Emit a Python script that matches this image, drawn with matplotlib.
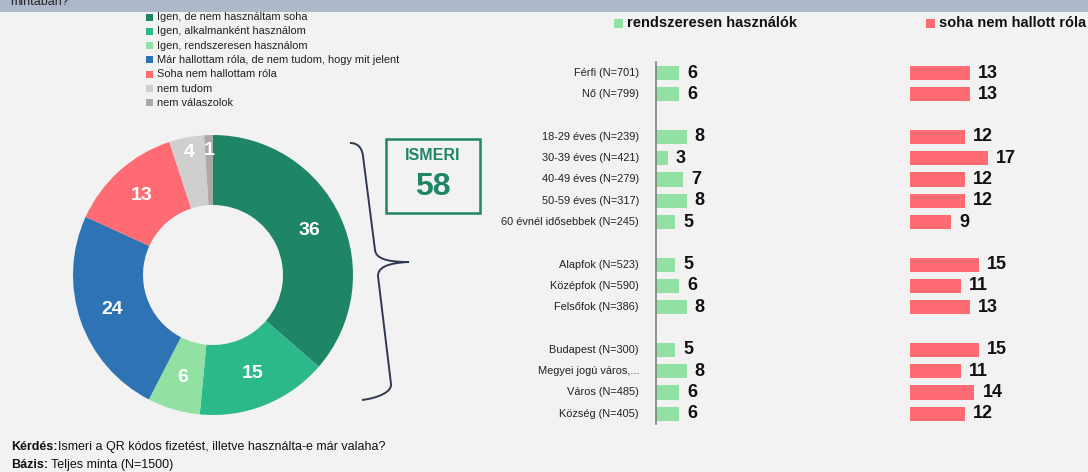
import matplotlib
matplotlib.use("Agg")
import matplotlib.pyplot as plt
from matplotlib import font_manager
from matplotlib.patches import Rectangle, PathPatch
from matplotlib.path import Path
import numpy as np

# ---------------- data ----------------
pie_labels = ["Igen, de nem használtam soha", "Igen, alkalmanként használom",
              "Igen, rendszeresen használom",
              "Már hallottam róla, de nem tudom, hogy mit jelent",
              "Soha nem hallottam róla", "nem tudom", "nem válaszolok"]
pie_values = [36, 15, 6, 24, 13, 4, 1]
pie_colors = ["#1E8567", "#2BB98C", "#92E0A2", "#2E74B5", "#FF6B72", "#D0CFCF", "#ADA9A8"]

categories = ["Férfi (N=701)", "Nő (N=799)", None,
              "18-29 éves (N=239)", "30-39 éves (N=421)", "40-49 éves (N=279)",
              "50-59 éves (N=317)", "60 évnél idősebbek (N=245)", None,
              "Alapfok (N=523)", "Középfok (N=590)", "Felsőfok (N=386)", None,
              "Budapest (N=300)", "Megyei jogú város,...", "Város (N=485)", "Község (N=405)"]
regular_users = [6, 6, None, 8, 3, 7, 8, 5, None, 5, 6, 8, None, 5, 8, 6, 6]
never_heard = [13, 13, None, 12, 17, 12, 12, 9, None, 15, 11, 13, None, 15, 11, 14, 12]
series_names = ["rendszeresen használók", "soha nem hallott róla"]
series_colors = ["#92E0A2", "#FF6B72"]
ismeri_total = 58

# ---------------- fonts ----------------
avail = {f.name for f in font_manager.fontManager.ttflist}
FAM = ["Liberation Sans", "DejaVu Sans"]
FAM = [f for f in FAM if f in avail] or ["DejaVu Sans"]
plt.rcParams["font.family"] = FAM

W, H = 1088, 472
BG = "#F2F2F2"
fig = plt.figure(figsize=(W / 100, H / 100), dpi=100, facecolor=BG)


def fx(px):
    return px / W


def fy(py):
    return 1 - py / H


# top banner
fig.patches.append(Rectangle((0, fy(12)), 1, 12 / H, transform=fig.transFigure,
                             facecolor="#ADB9CA", edgecolor="none", zorder=0))
fig.text(fx(10), fy(2), "mintában?", fontsize=9, va="center", ha="left", color="#222222")

# ---------------- donut ----------------
cx, cy, R = 213, 275, 140
axp = fig.add_axes([fx(cx - R), fy(cy + R), 2 * R / W, 2 * R / H])
axp.set_facecolor("none")
wedges, _ = axp.pie(pie_values, colors=pie_colors, startangle=90, counterclock=False,
                    radius=1, wedgeprops=dict(width=0.5, edgecolor="none"))
tot = sum(pie_values)
cum = 0
for v in pie_values:
    a = np.deg2rad(90 - 360 * (cum + v / 2) / tot)
    cum += v
    r = 0.76 if v >= 5 else 0.89
    axp.text(r * np.cos(a), r * np.sin(a), str(v), color="white", fontsize=14,
             fontweight="bold", ha="center", va="center")
axp.set_xlim(-1, 1)
axp.set_ylim(-1, 1)
axp.set_aspect("equal")
axp.axis("off")

# pie legend
for i, (lab, col) in enumerate(zip(pie_labels, pie_colors)):
    y = 17 + i * 14.3
    fig.patches.append(Rectangle((fx(146), fy(y + 3.5)), 7 / W, 7 / H, transform=fig.transFigure,
                                 facecolor=col, edgecolor="none"))
    fig.text(fx(157), fy(y), lab, fontsize=7.9, va="center", ha="left", color="#222222")

# brace (slightly tilted, like the reference)
verts_px = [(350, 143), (358, 143), (362, 148), (363, 156),
            (375, 250),
            (376, 258), (385, 262), (409, 262),
            (386, 263), (378, 268), (378, 276),
            (391, 384),
            (392, 392), (378, 398), (362, 400)]
codes = [Path.MOVETO, Path.CURVE4, Path.CURVE4, Path.CURVE4,
         Path.LINETO,
         Path.CURVE4, Path.CURVE4, Path.CURVE4,
         Path.CURVE4, Path.CURVE4, Path.CURVE4,
         Path.LINETO,
         Path.CURVE4, Path.CURVE4, Path.CURVE4]
verts = [(fx(x), fy(y)) for x, y in verts_px]
fig.patches.append(PathPatch(Path(verts, codes), transform=fig.transFigure, facecolor="none",
                             edgecolor="#2F3A4F", linewidth=1.4))

# ISMERI box
fig.patches.append(Rectangle((fx(386), fy(213)), 94 / W, 74 / H, transform=fig.transFigure,
                             facecolor="none", edgecolor="#1E8567", linewidth=1.8))
fig.text(fx(433), fy(155), "ISMERI", fontsize=11.5, fontweight="bold", color="#1E8567",
         ha="center", va="center")
fig.text(fx(433), fy(187), str(ismeri_total), fontsize=23, fontweight="bold", color="#1E8567",
         ha="center", va="center")

# ---------------- bars ----------------
n = len(categories)
slot = 21.3
top_px = 73 - slot / 2
bot_px = 73 + slot * (n - 1) + slot / 2
ypos = list(range(n))

GSCALE = 3.85   # px per unit (green)
RSCALE = 4.6    # px per unit (red)
axg = fig.add_axes([fx(656), fy(bot_px), 60 * GSCALE / W, (bot_px - top_px) / H])
axr = fig.add_axes([fx(910), fy(bot_px), 30 * RSCALE / W, (bot_px - top_px) / H])
axg.set_xlim(0, 60)
axr.set_xlim(0, 30)
for ax, vals, col, sc in [(axg, regular_users, series_colors[0], GSCALE),
                          (axr, never_heard, series_colors[1], RSCALE)]:
    ax.set_facecolor("none")
    ys = [y for y, v in zip(ypos, vals) if v is not None]
    vs = [v for v in vals if v is not None]
    ax.barh(ys, vs, height=0.66, color=col, edgecolor="none")
    for y, v in zip(ys, vs):
        ax.text(v + 8.0 / sc, y, str(v), fontsize=13, fontweight="bold",
                ha="left", va="center", color="#111111", clip_on=False)
    ax.set_ylim(n - 0.5, -0.5)
    for s in ["top", "right", "bottom"]:
        ax.spines[s].set_visible(False)
    ax.set_xticks([])
    ax.set_yticks([])
axr.spines["left"].set_visible(False)
axg.spines["left"].set_color("#808080")
axg.spines["left"].set_linewidth(1.2)
for y, c in zip(ypos, categories):
    if c is not None:
        axg.text(-17.0 / GSCALE, y, c, fontsize=7.9, ha="right", va="center", color="#222222")

# bar legend
for x0, name, col in [(614, series_names[0], series_colors[0]), (926, series_names[1], series_colors[1])]:
    fig.patches.append(Rectangle((fx(x0), fy(28)), 9 / W, 9 / H, transform=fig.transFigure,
                                 facecolor=col, edgecolor="none"))
    fig.text(fx(x0 + 13), fy(23), name, fontsize=10.5, fontweight="bold", ha="left", va="center",
             color="#111111")

# footer (bold lead-in followed by normal text)
renderer = fig.canvas.get_renderer()


def lead_text(y, bold, rest, gap):
    t = fig.text(fx(11), fy(y), bold, fontsize=9.0, fontweight="bold", ha="left", va="center",
                 color="#111111")
    bb = t.get_window_extent(renderer=renderer)
    fig.text((bb.x1 + gap) / W, fy(y), rest, fontsize=9.0, ha="left", va="center",
             color="#111111")


lead_text(447, "Kérdés:", "Ismeri a QR kódos fizetést, illetve használta-e már valaha?", 0.5)
lead_text(465, "Bázis:", "Teljes minta (N=1500)", 3)

fig.savefig("out.png", dpi=100, facecolor=BG)
